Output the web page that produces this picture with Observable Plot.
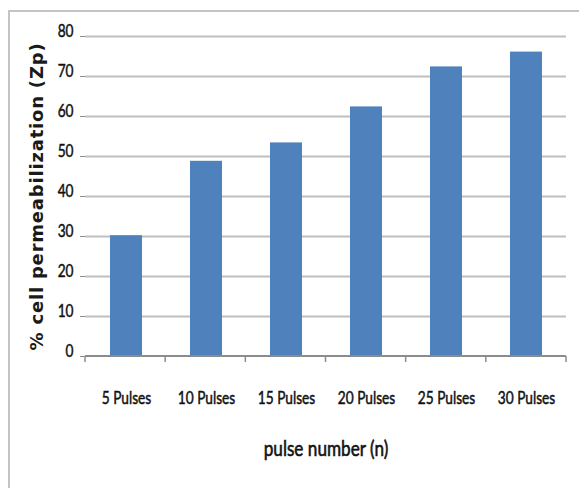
<!DOCTYPE html>
<html>
<head>
<meta charset="utf-8">
<script src="https://cdn.jsdelivr.net/npm/d3@7"></script>
<script src="https://cdn.jsdelivr.net/npm/@observablehq/plot@0.6"></script>
<style>
  html, body { margin: 0; padding: 0; background: #fff; }
  #wrap { position: relative; width: 579px; height: 488px; overflow: hidden; }
  #border { position: absolute; left: 8px; top: 10px; width: 600px; height: 500px;
            border-left: 2px solid #c4c4c4; border-top: 2px solid #c4c4c4; }
  #chart { position: absolute; left: 0; top: 0; }
</style>
</head>
<body>
<div id="wrap"><div id="border"></div><div id="chart"></div></div>
<script>
// Cell permeabilization by number of pulses
const categories = ["5 Pulses", "10 Pulses", "15 Pulses", "20 Pulses", "25 Pulses", "30 Pulses"];
const values = [30.2, 48.8, 53.4, 62.4, 72.4, 76.1];
const yTicks = [0, 10, 20, 30, 40, 50, 60, 70, 80];
const yTitle = "% cell permeabilization (Zp)";
const xTitle = "pulse number (n)";

const data = categories.map((c, i) => ({category: c, value: values[i]}));

const W = 579, H = 488, ML = 85, MR = 13, MT = 36, MB = 132;
const labelFont = "Lato, 'Open Sans', sans-serif";
const narrowTicks = 0.76;  // horizontal condensing of the tick label glyphs
const narrowTitle = 0.78;  // horizontal condensing of the x-axis title

// bottom axis line with tick marks at the category boundaries
function categoryAxis(index, scales, values, dims) {
  const step = (dims.width - dims.marginLeft - dims.marginRight) / categories.length;
  const y0 = scales.y(0);
  const g = d3.create("svg:g").attr("stroke", "#8c8c8c");
  g.append("line")
    .attr("x1", dims.marginLeft).attr("x2", dims.width - dims.marginRight)
    .attr("y1", y0).attr("y2", y0).attr("stroke-width", 2);
  d3.range(categories.length + 1).forEach(i => {
    const x = dims.marginLeft + i * step;
    g.append("line").attr("x1", x).attr("x2", x)
      .attr("y1", y0).attr("y2", y0 + 6).attr("stroke-width", 1.5);
  });
  return g.node();
}

// condense text glyphs horizontally around their anchor point
function condense(root, sx) {
  d3.select(root).selectAll("text").each(function () {
    const t = d3.select(this);
    let tr = t.attr("transform") || "";
    const x = t.attr("x"), y = t.attr("y");
    if (x != null || y != null) {
      tr = `translate(${+x || 0},${+y || 0}) ` + tr;
      t.attr("x", null).attr("y", null);
    }
    t.attr("transform", `${tr} scale(${sx},1)`);
  });
}

const chart = Plot.plot({
  width: W,
  height: H,
  marginLeft: ML,
  marginRight: MR,
  marginTop: MT,
  marginBottom: MB,
  style: {background: "transparent", fontFamily: labelFont, color: "#111"},
  x: {domain: categories, paddingInner: 0.6, paddingOuter: 0.3, label: null},
  y: {domain: [0, 80], label: null},
  marks: [
    Plot.ruleY(yTicks.filter(d => d > 0), {stroke: "#c0c0c0", strokeWidth: 2}),
    Plot.barY(data, {x: "category", y: "value", fill: "#4f81bd"}),
    Plot.ruleX([0], {frameAnchor: "left", y1: 0, y2: 80, stroke: "#8c8c8c", strokeWidth: 2}),
    Plot.axisY({ticks: yTicks, tickSize: 5, tickPadding: 7, stroke: "#8c8c8c",
                fontSize: 18, label: null, ariaLabel: "y-axis"}),
    Plot.axisX({tickSize: 0, tickPadding: 47, fontSize: 18, label: null, ariaLabel: "x-axis"}),
    categoryAxis,
    Plot.text([yTitle], {frameAnchor: "left", textAnchor: "middle", rotate: -90, dx: -48,
                         fontFamily: "'DejaVu Sans', sans-serif", fontWeight: "bold",
                         fontSize: 18, fill: "#1a1a1a",
                         render(index, scales, values, dims, ctx, next) {
                           const g = next(index, scales, values, dims, ctx);
                           d3.select(g).selectAll("text").style("letter-spacing", "0.8px");
                           return g;
                         }}),
    Plot.text([xTitle], {frameAnchor: "bottom", dy: 99, fontSize: 22,
                         fontFamily: labelFont, fill: "#111",
                         render(index, scales, values, dims, ctx, next) {
                           const g = next(index, scales, values, dims, ctx);
                           condense(g, narrowTitle);
                           d3.select(g).selectAll("text")
                             .attr("stroke", "#111").attr("stroke-width", 0.6);
                           return g;
                         }})
  ]
});

// heavier, condensed tick label text
d3.select(chart)
  .selectAll('g[aria-label="y-axis tick label"], g[aria-label="x-axis tick label"]')
  .each(function () { condense(this, narrowTicks); })
  .attr("stroke", "#111").attr("stroke-width", 0.5);

document.getElementById("chart").append(chart);
</script>
</body>
</html>
